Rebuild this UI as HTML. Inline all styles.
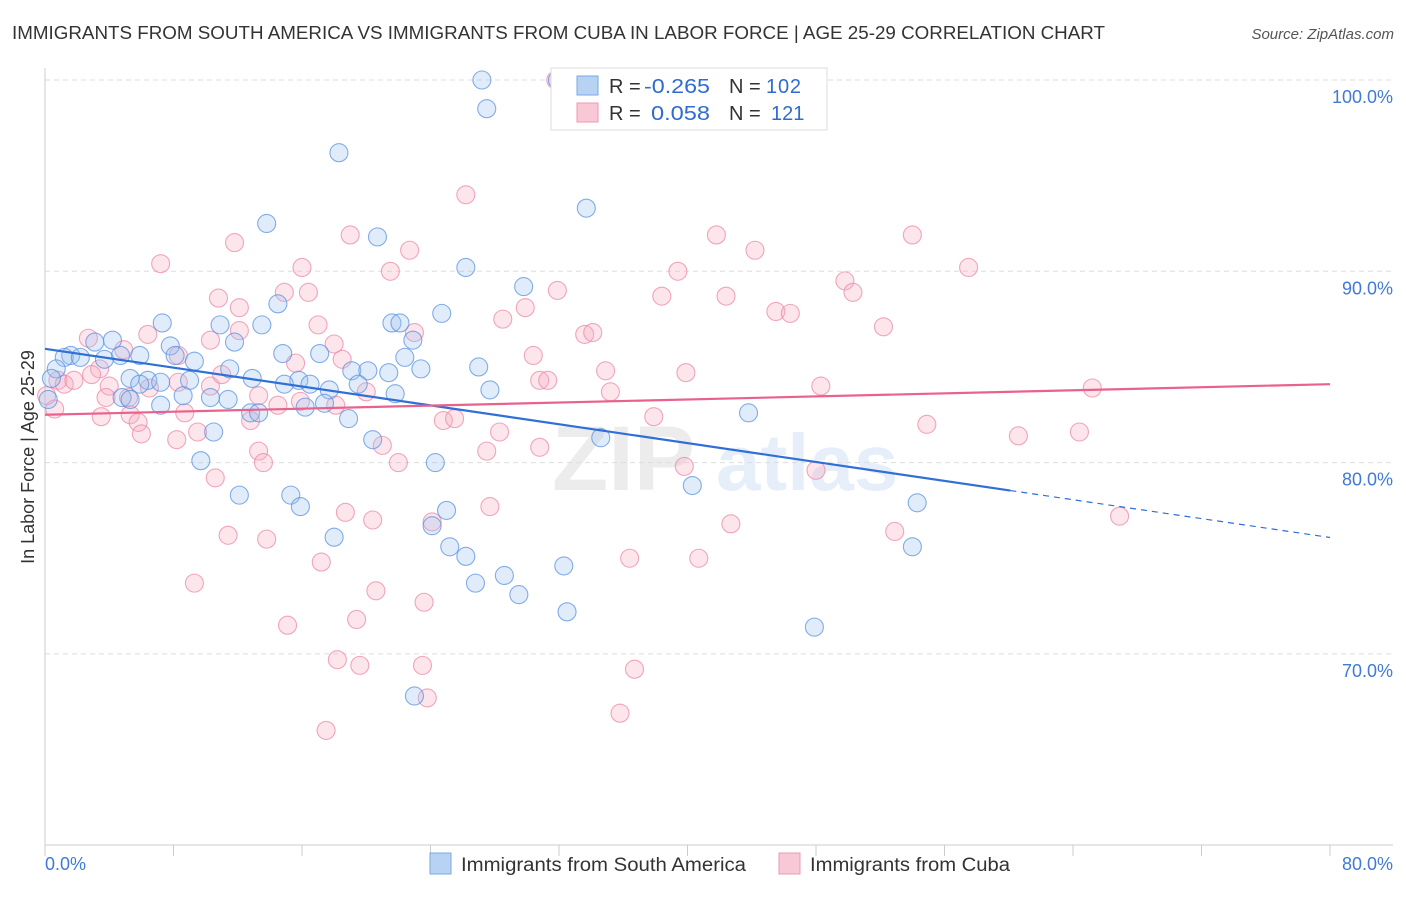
<!DOCTYPE html>
<html><head><meta charset="utf-8"><style>
body{margin:0;background:#fff;font-family:"Liberation Sans",sans-serif}
svg text{font-family:"Liberation Sans",sans-serif}
</style></head><body>
<svg id="chart" width="1406" height="892" xmlns="http://www.w3.org/2000/svg">
<text x="12" y="39" font-size="18" fill="#333" textLength="1093" lengthAdjust="spacingAndGlyphs">IMMIGRANTS FROM SOUTH AMERICA VS IMMIGRANTS FROM CUBA IN LABOR FORCE | AGE 25-29 CORRELATION CHART</text>
<text x="1394" y="39" font-size="15" fill="#555" text-anchor="end" font-style="italic">Source: ZipAtlas.com</text>
<g opacity="0.13">
<text x="552" y="490" font-size="92" font-family="Liberation Serif" fill="#777" font-weight="bold">ZIP</text>
<text x="716" y="490" font-size="80" fill="#4a86d8" font-weight="bold">atlas</text>
</g>
<g id="grid"></g>
<g id="axes"></g>
<g id="pts"></g>
<g id="trend"></g>
<g>
<rect x="551" y="68" width="276" height="62" fill="#fff" stroke="#ddd"/>
<rect x="577" y="76" width="21" height="19" fill="#b8d2f4" stroke="#7aa8e8"/>
<rect x="577" y="103" width="21" height="19" fill="#f9c8d6" stroke="#ef98b2"/>
<text x="609" y="93" font-size="20" fill="#333">R = <tspan x="644" fill="#2f6bd0" textLength="66" lengthAdjust="spacingAndGlyphs">-0.265</tspan><tspan x="729">N = </tspan><tspan x="766" fill="#2f6bd0" textLength="35">102</tspan></text>
<text x="609" y="120" font-size="20" fill="#333">R = <tspan x="651" fill="#2f6bd0" textLength="59" lengthAdjust="spacingAndGlyphs">0.058</tspan><tspan x="729">N = </tspan><tspan x="771" fill="#2f6bd0">121</tspan></text>
</g>
<g>
<rect x="430" y="853" width="21" height="21" fill="#b8d2f4" stroke="#7aa8e8"/>
<text x="461" y="871" font-size="19" fill="#333" textLength="285" lengthAdjust="spacingAndGlyphs">Immigrants from South America</text>
<rect x="779" y="853" width="21" height="21" fill="#f9c8d6" stroke="#ef98b2"/>
<text x="810" y="871" font-size="19" fill="#333" textLength="200" lengthAdjust="spacingAndGlyphs">Immigrants from Cuba</text>
</g>
<text transform="translate(34,457) rotate(-90)" font-size="18" fill="#333" text-anchor="middle">In Labor Force | Age 25-29</text>
</svg>
<script>
const yTicks=[100,90,80,70];
const yTickLabels=["100.0%","90.0%","80.0%","70.0%"];
const xTickLabels=["0.0%","80.0%"];
const blueX=[27.2,27.5,31.9,18.3,33.7,13.8,20.7,26.2,29.8,14.5,7.3,10.9,13.5,21.6,22.1,24.7,22.9,11.8,4.2,3.1,7.8,5.9,8.1,4.7,1.6,1.2,2.2,3.7,9.3,11.5,17.1,14.8,22.4,27.0,23.4,19.1,20.1,21.4,12.9,15.8,9.0,5.3,6.4,7.2,5.9,0.7,0.4,0.2,19.5,21.8,16.5,14.9,17.7,27.7,8.6,10.3,4.8,5.3,7.2,11.4,16.2,17.4,12.8,13.3,18.9,20.4,34.6,10.5,9.7,24.3,12.1,15.3,15.9,25.0,24.1,18.0,25.2,26.2,26.8,28.6,29.5,32.3,32.5,40.3,43.8,54.3,54.0,47.9,23.0];
const blueY=[100,98.5,100,96.2,93.3,92.5,91.8,90.2,89.2,88.3,87.3,87.2,87.2,87.3,87.3,87.8,86.4,86.3,86.4,86.3,86.1,85.6,85.6,85.6,85.6,85.5,85.5,85.4,85.3,84.9,85.7,85.7,85.5,85.0,84.9,84.8,84.8,84.7,84.4,84.3,84.3,84.4,84.3,84.2,84.1,84.9,84.4,83.3,84.1,83.6,84.1,84.1,83.8,83.8,83.5,83.4,83.4,83.3,83.0,83.3,82.9,83.1,82.6,82.6,82.3,81.2,81.3,81.6,80.1,80.0,78.3,78.3,77.7,77.5,76.7,76.1,75.6,75.1,73.7,74.1,73.1,74.6,72.2,78.8,82.6,77.9,75.6,71.4,67.8];
const pinkX=[26.2,31.8,47.0,11.8,19.0,22.7,41.8,44.2,54.0,7.2,16.0,21.5,39.4,49.8,57.5,10.8,12.1,14.9,16.4,29.9,31.9,38.4,42.4,50.3,45.5,46.4,28.5,17.0,12.1,52.2,23.0,33.6,34.1,2.7,6.4,10.3,18.0,4.9,8.3,15.6,18.5,30.4,34.9,39.9,3.4,2.9,0.8,1.2,1.8,8.3,10.3,11.0,4.0,13.3,20.0,30.8,31.3,35.2,48.3,65.2,6.5,3.8,5.2,15.9,3.5,5.3,5.8,8.7,12.8,24.8,25.5,14.5,18.1,37.9,28.3,6.0,8.2,9.5,54.9,60.6,64.4,21.0,27.5,30.8,13.3,13.6,22.0,39.8,10.6,48.0,27.7,18.7,20.4,24.1,42.7,52.9,66.9,11.4,13.8,17.2,36.4,40.7,9.3,20.6,23.6,15.1,19.4,18.2,19.6,23.5,36.7,23.8,35.8,17.5,0.6,0.1];
const pinkY=[94.0,100,98.3,91.5,91.9,91.1,91.9,91.1,91.9,90.4,90.2,90.0,90.0,89.5,90.2,88.6,88.1,88.9,88.9,88.1,89.0,88.7,88.7,88.9,87.9,87.8,87.5,87.2,86.9,87.1,86.8,86.7,86.8,86.5,86.7,86.4,86.2,85.9,85.6,85.2,85.4,85.6,84.8,84.7,84.9,84.6,84.3,84.1,84.3,84.2,84.0,84.6,84.0,83.5,83.7,84.3,84.3,83.7,84.0,83.9,83.9,83.4,83.4,83.2,82.4,82.5,82.1,82.6,82.2,82.2,82.3,83.0,83.0,82.4,81.6,81.5,81.2,81.6,82.0,81.4,81.6,80.9,80.6,80.8,80.6,80.0,80.0,79.8,79.2,79.6,77.7,77.4,77.0,76.9,76.8,76.4,77.2,76.2,76.0,74.8,75.0,75.0,73.7,73.3,72.7,71.5,71.8,69.7,69.4,69.4,69.2,67.7,66.9,66.0,82.8,83.5];
const blueTrend=[85.95,-0.1233];
const pinkTrend=[82.5,0.02];
const NS="http://www.w3.org/2000/svg";
const X0=45,X1=1330,Y100=80,PPU=19.13;
const sx=v=>X0+v/80*(X1-X0);
const sy=v=>Y100+(100-v)*PPU;
function mk(t,a,p){const e=document.createElementNS(NS,t);for(const k in a)e.setAttribute(k,a[k]);p.appendChild(e);return e;}
const grid=document.getElementById('grid'),axes=document.getElementById('axes'),pts=document.getElementById('pts'),trend=document.getElementById('trend');
yTicks.forEach((t,i)=>{
 const l=mk('line',{x1:X0,x2:1393,y1:sy(t),y2:sy(t),stroke:'#ddd','stroke-dasharray':'5,4'},grid);
 
 
 const tx=mk('text',{x:1393,y:sy(t)+23,'font-size':18,fill:'#3f7ad8','text-anchor':'end'},axes);
 tx.textContent=yTickLabels[i];
 
 
});
const ax=mk('line',{x1:X0,x2:X0,y1:68,y2:845,stroke:'#ccc'},axes);


const bx=mk('line',{x1:X0,x2:1393,y1:845,y2:845,stroke:'#ccc'},axes);


for(let i=0;i<=10;i++){
 const tk=mk('line',{x1:sx(i*8),x2:sx(i*8),y1:845,y2:856,stroke:'#ccc'},axes);
 
 
}
const xl0=mk('text',{x:45,y:870,'font-size':18,fill:'#3f7ad8'},axes);xl0.textContent=xTickLabels[0];


const xl1=mk('text',{x:1393,y:870,'font-size':18,fill:'#3f7ad8','text-anchor':'end'},axes);xl1.textContent=xTickLabels[1];


function dots(xs,ys,fill,stroke,name){
 xs.forEach((x,i)=>{
  const c=mk('circle',{cx:sx(x),cy:sy(ys[i]),r:9,fill:fill,'fill-opacity':0.3,stroke:stroke,'stroke-opacity':0.75,'stroke-width':1.1},pts);
  
  
 });
}
dots(pinkX,pinkY,'#f7a8bf','#ec8aa8','point-cuba');
dots(blueX,blueY,'#9cc1ee','#5b93e0','point-south-america');
const f=(t,x)=>t[0]+t[1]*x;
const b1=mk('line',{x1:sx(0),y1:sy(f(blueTrend,0)),x2:sx(60.1),y2:sy(f(blueTrend,60.1)),stroke:'#2f6fd6','stroke-width':2.2},trend);


const b2=mk('line',{x1:sx(60.1),y1:sy(f(blueTrend,60.1)),x2:sx(80),y2:sy(f(blueTrend,80)),stroke:'#2f6fd6','stroke-width':1.2,'stroke-dasharray':'6,5'},trend);


const p1=mk('line',{x1:sx(0),y1:sy(f(pinkTrend,0)),x2:sx(80),y2:sy(f(pinkTrend,80)),stroke:'#e8628c','stroke-width':2.2},trend);


</script>
</body></html>
